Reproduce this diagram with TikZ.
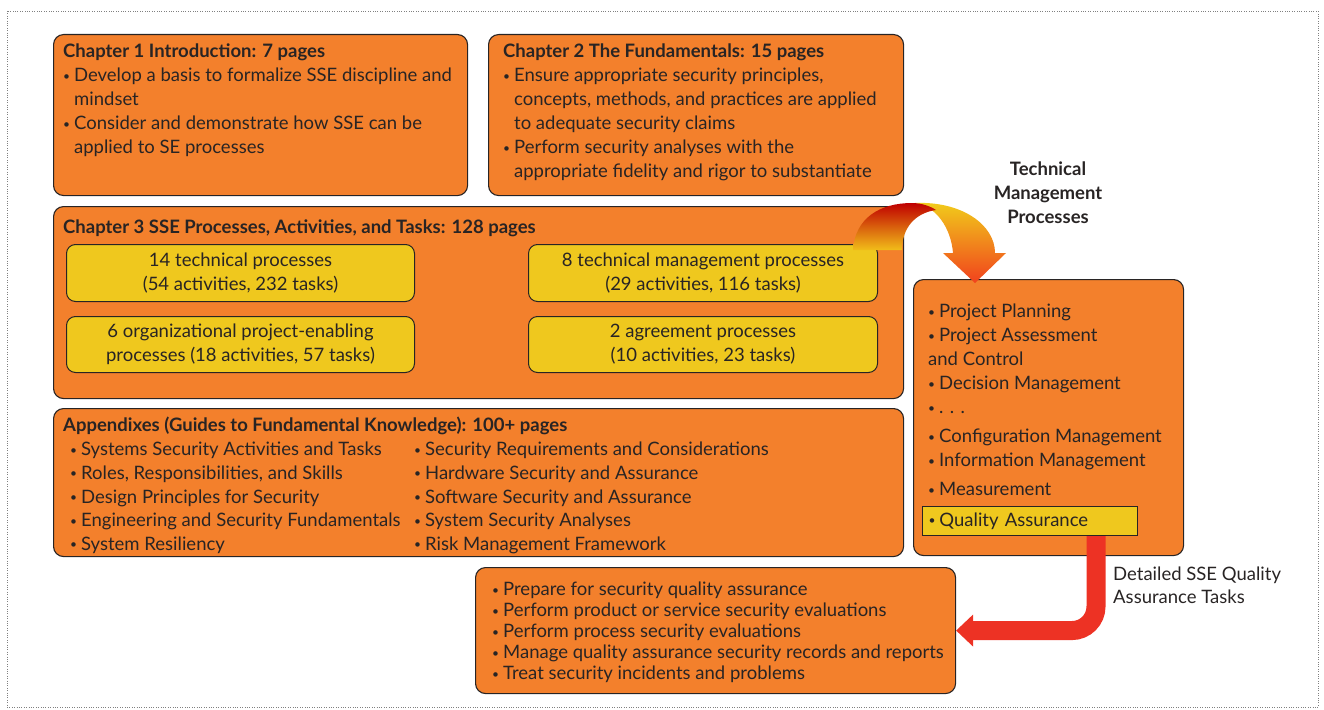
\documentclass[tikz,border=0pt]{standalone}
\usepackage{fontspec}
\setmainfont{Lato}
\usetikzlibrary{arrows.meta}
\definecolor{boxorange}{RGB}{243,128,44}
\definecolor{boxyellow}{RGB}{239,200,30}
\definecolor{qared}{RGB}{237,50,36}
\definecolor{inkgray}{RGB}{40,36,36}
\newcommand{\bul}{{\fontsize{12}{12}\selectfont\raisebox{1.8pt}{\textbullet}}\hspace{4pt}}
\newcommand{\hang}{\phantom{\bul}}

\begin{document}
\begin{tikzpicture}[x=1pt,y=-1pt,
  chapbox/.style={draw=inkgray,fill=boxorange,rounded corners=10pt,line width=1.1pt,anchor=north west,inner sep=0pt},
  procbox/.style={draw=inkgray,fill=boxyellow,rounded corners=9pt,line width=1pt,anchor=north west,inner sep=0pt},
  qabox/.style={draw=inkgray,fill=boxyellow,line width=1pt,anchor=north west,inner xsep=6pt,inner ysep=0pt,align=left},
  txt/.style={anchor=north west,inner sep=0pt,align=left,text=inkgray,font=\fontsize{18.5}{24}\selectfont},
  ctxt/.style={inner sep=0pt,align=center,text=inkgray,font=\fontsize{18.5}{24}\selectfont}]
\useasboundingbox (0,0) rectangle (1324,709);
\draw[gray,dotted] (7,11) rectangle (1318,707);

% chapter boxes
\node[chapbox,minimum width=414,minimum height=161] (ch1) at (53,34) {};
\node[chapbox,minimum width=415,minimum height=161] (ch2) at (488,34) {};
\node[chapbox,minimum width=850,minimum height=192] (ch3) at (53,206) {};
\node[chapbox,minimum width=850,minimum height=148] (appx) at (53,408) {};
\node[chapbox,minimum width=270,minimum height=276] (tmp) at (913,279) {};
\node[chapbox,minimum width=480,minimum height=126] (tasks) at (475,567) {};

\node[txt] (ch1txt) at (63,44) {\textbf{Chapter 1 Introduction: 7 pages}\\
  \bul Develop a basis to formalize SSE discipline and\\ \hang mindset\\
  \bul Consider and demonstrate how SSE can be\\ \hang applied to SE processes};
\node[txt] (ch2txt) at (503,44) {\textbf{Chapter 2 The Fundamentals: 15 pages}\\
  \bul Ensure appropriate security principles,\\
  \hang concepts, methods, and practices are applied\\
  \hang to adequate security claims\\
  \bul Perform security analyses with the\\
  \hang appropriate fidelity and rigor to substantiate};
\node[txt] (ch3txt) at (63,220) {\textbf{Chapter 3 SSE Processes, Activities, and Tasks: 128 pages}};

% process boxes
\node[procbox,minimum width=348,minimum height=57] (tech) at (66,244) {};
\node[procbox,minimum width=349,minimum height=57] (mgmt) at (528,244) {};
\node[procbox,minimum width=348,minimum height=56] (org) at (66,316) {};
\node[procbox,minimum width=349,minimum height=56] (agree) at (528,316) {};
\node[ctxt] (techtxt) at (tech) {14 technical processes\\(54 activities, 232 tasks)};
\node[ctxt] (mgmttxt) at (mgmt) {8 technical management processes\\(29 activities, 116 tasks)};
\node[ctxt] (orgtxt) at (org) {6 organizational project-enabling\\processes (18 activities, 57 tasks)};
\node[ctxt] (agreetxt) at (agree) {2 agreement processes\\(10 activities, 23 tasks)};

\node[txt] (appxtxt) at (63,417) {\textbf{Appendixes (Guides to Fundamental Knowledge): 100+ pages}};
\node[txt,font=\fontsize{18.5}{23.7}\selectfont] (appxa) at (70,442) {\bul Systems Security Activities and Tasks\\
  \bul Roles, Responsibilities, and Skills\\ \bul Design Principles for Security\\
  \bul Engineering and Security Fundamentals\\ \bul System Resiliency};
\node[txt,font=\fontsize{18.5}{23.7}\selectfont] (appxb) at (414,442) {\bul Security Requirements and Considerations\\
  \bul Hardware Security and Assurance\\ \bul Software Security and Assurance\\
  \bul System Security Analyses\\ \bul Risk Management Framework};

% technical management processes
\node[txt] (tmptxt) at (928,304) {\bul Project Planning\\ \bul Project Assessment\\ and Control\\
  \bul Decision Management\\ \bul . . .\\[5pt] \bul Configuration Management\\
  \bul Information Management\\[5pt] \bul Measurement};
\node[qabox,minimum width=215,minimum height=29,text width=203,text=inkgray,font=\fontsize{18.5}{24}\selectfont] (qa) at (922,506) {\bul Quality Assurance};
\node[ctxt,font=\bfseries\fontsize{18.5}{24}\selectfont] (tmphead) at (1048,193) {Technical\\Management\\Processes};

\node[txt,font=\fontsize{18.5}{21}\selectfont] (taskstxt) at (492,582) {\bul Prepare for security quality assurance\\
  \bul Perform product or service security evaluations\\ \bul Perform process security evaluations\\
  \bul Manage quality assurance security records and reports\\ \bul Treat security incidents and problems};
\node[txt,font=\fontsize{18.5}{23}\selectfont] (qahead) at (1113,567) {Detailed SSE Quality\\Assurance Tasks};

% curved arrow
\shade[top color=boxyellow!90!yellow,bottom color=qared!80!orange]
  (915,203) .. controls (962,201) and (995,225) .. (995,253) -- (1006,253) -- (975,283) -- (943,253) -- (953,253)
  .. controls (951,228) and (936,206) .. (915,203) -- cycle;
\shade[top color=red!75!black,bottom color=boxyellow!85!orange]
  (853,250) .. controls (855,218) and (880,203) .. (912,203) .. controls (921,203) and (930,206) .. (936,210)
  .. controls (915,213) and (902,228) .. (902,250) -- cycle;

% red arrow
\draw[qared,line width=19pt,rounded corners=24pt,-{Triangle[length=17pt,width=31pt]}]
  (qa.south -| 1096,0) |- (tasks.east);
\end{tikzpicture}
\end{document}
